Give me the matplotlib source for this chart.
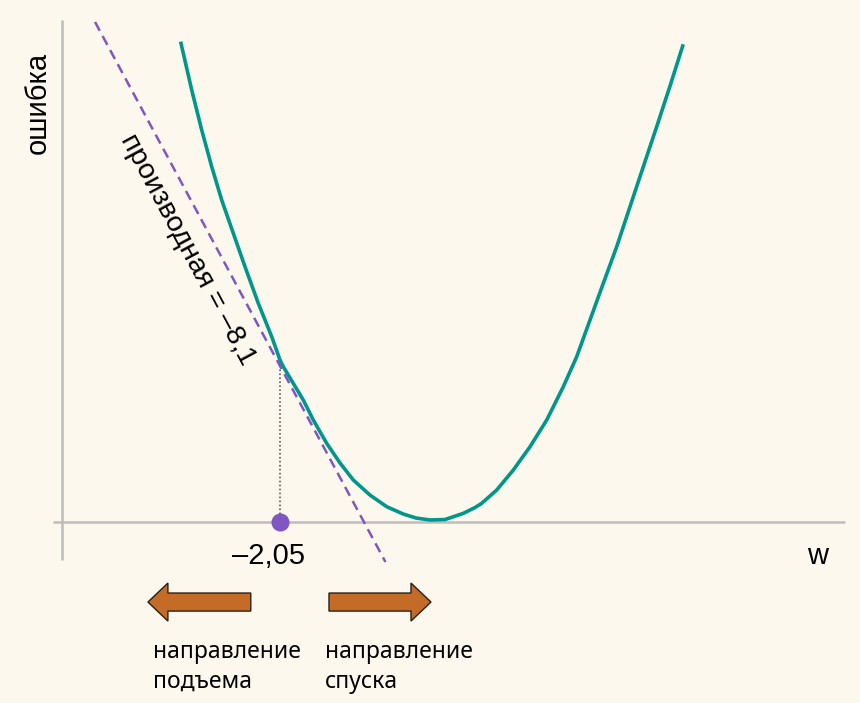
import matplotlib
matplotlib.use("Agg")
import matplotlib.pyplot as plt
from matplotlib.patches import FancyArrow

# curve (w, error)
curve_w = [-4.726, -4.436, -4.166, -3.896, -3.626, -3.312, -2.996, -2.636, -2.274, -2.05,
           -1.961, -1.42, -1.15, -0.788, -0.428, -0.069, 0.382, 0.834, 1.282, 1.626,
           2.0, 2.409, 2.904, 3.22, 3.401, 3.807, 4.255, 4.707, 5.158, 5.607,
           5.969, 6.328, 6.688, 7.05, 7.409, 7.769, 8.131, 8.491, 8.834]
curve_err = [56.28, 50.79, 46.09, 41.78, 37.86, 33.95, 30.02, 25.71, 21.79, 19.05,
             18.26, 14.34, 11.99, 9.25, 6.94, 4.94, 3.17, 1.80, 0.94, 0.47,
             0.24, 0.29, 1.02, 1.70, 2.20, 3.76, 6.11, 8.85, 11.99, 15.91,
             19.44, 23.75, 28.07, 32.37, 37.07, 41.78, 46.48, 51.27, 55.97]

# point where the derivative is taken, and the tangent (slope -8.1)
w0 = -2.05
err0 = 19.05
tangent_w = [-7.05, 0.8]
tangent_err = [58.8, -4.7]

bg = "#fdf8ee"
teal = "#00968a"
purple = "#7e57c2"
orange = "#c46b27"
grey = "#bdbdbd"

fig = plt.figure(figsize=(8.6, 7.03), dpi=100, facecolor=bg)
ax = fig.add_axes([0, 0, 1, 1])
ax.set_facecolor(bg)
ax.set_xlim(-9.618, 13.626)
ax.set_ylim(-21.28, 61.38)
ax.axis("off")

# axes lines
ax.plot([-8.18, 13.22], [0, 0], color=grey, lw=1.8, solid_capstyle="butt", zorder=1)
ax.plot([-7.94, -7.94], [-4.47, 59.0], color=grey, lw=1.8, solid_capstyle="butt", zorder=1)

ax.plot(curve_w, curve_err, color=teal, lw=2.6, solid_joinstyle="round", zorder=3)
ax.plot(tangent_w, tangent_err, color=purple, lw=1.8, linestyle=(0, (4, 2.4)), zorder=4)
ax.plot([w0, w0], [0, err0], color="#444444", lw=1.1, linestyle=(0, (1, 1.6)), zorder=2)
ax.plot([w0], [0], "o", color=purple, ms=13, mec="none", zorder=5)

arial = "Liberation Sans"
ax.text(-4.54, 32.0, "производная = –8,1", family=arial, fontsize=20.5,
        rotation=-61.8, rotation_mode="anchor", ha="center", va="center")
ax.text(-2.37, -4.0, "–2,05", family=arial, fontsize=21, ha="center", va="center")
ax.text(12.49, -3.94, "w", family=arial, fontsize=21, ha="center", va="center")
ax.text(-8.59, 49.3, "ошибка", family=arial, fontsize=21, rotation=90, ha="center", va="center")

# direction arrows
for tail, tip in [(-2.84, -5.62), (-0.726, 2.03)]:
    ax.add_patch(FancyArrow(tail, -9.41, tip - tail, 0, width=2.12, head_width=4.47,
                            head_length=0.54, length_includes_head=True,
                            facecolor=orange, edgecolor="#2a1f14", lw=1.0, zorder=3))

noto = "Noto Sans"
ax.text(-5.49, -16.0, "направление", family=noto, fontsize=16.5, ha="left", va="baseline")
ax.text(-5.49, -19.5, "подъема", family=noto, fontsize=16.5, ha="left", va="baseline")
ax.text(-0.834, -16.0, "направление", family=noto, fontsize=16.5, ha="left", va="baseline")
ax.text(-0.834, -19.5, "спуска", family=noto, fontsize=16.5, ha="left", va="baseline")

fig.savefig("out.png", dpi=100, facecolor=bg)
